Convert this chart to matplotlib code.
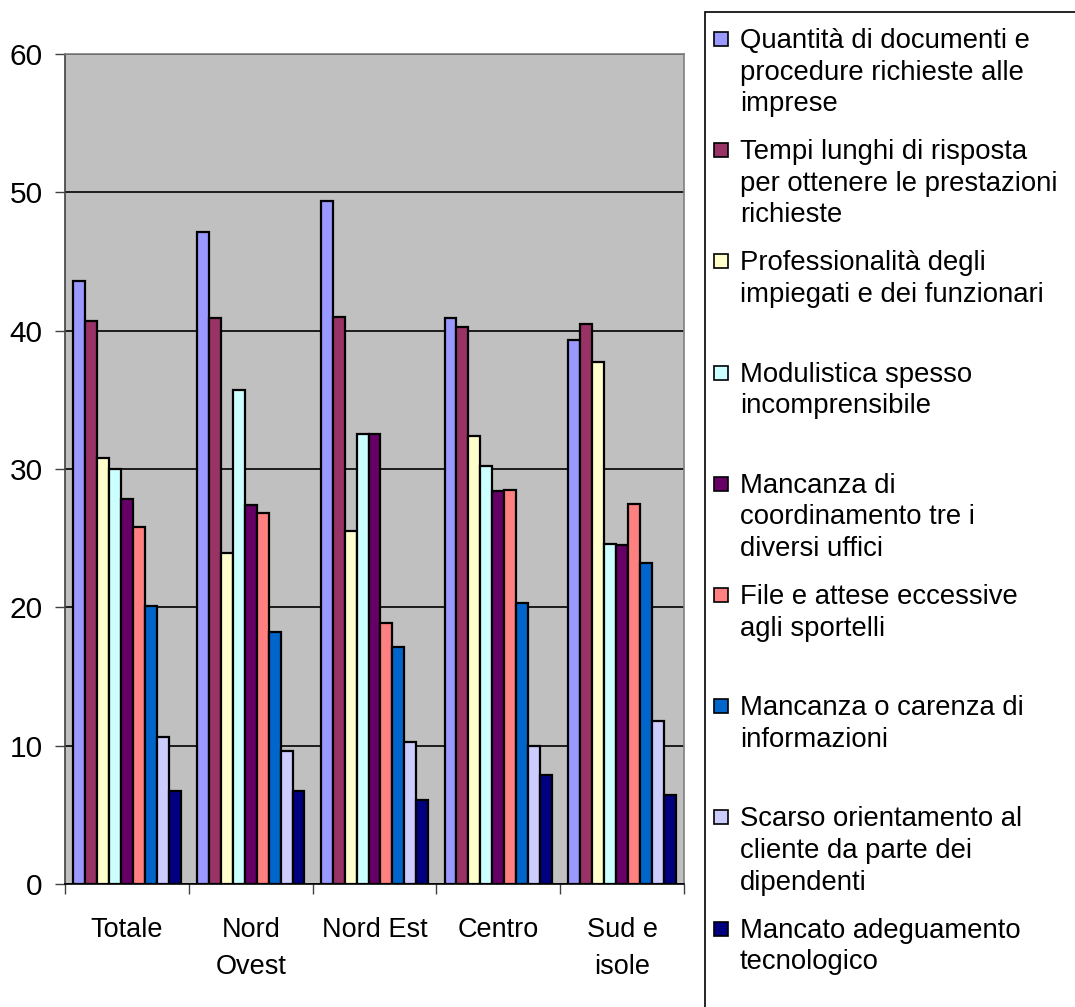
import numpy as np
import matplotlib
matplotlib.use("Agg")
import matplotlib.pyplot as plt
from matplotlib.patches import Rectangle

plt.rcParams['font.family'] = ['Liberation Sans', 'DejaVu Sans']

# dati
regioni = ["Totale", "Nord\nOvest", "Nord Est", "Centro", "Sud e\nisole"]
serie = [
    "Quantità di documenti e\nprocedure richieste alle\nimprese",
    "Tempi lunghi di risposta\nper ottenere le prestazioni\nrichieste",
    "Professionalità degli\nimpiegati e dei funzionari",
    "Modulistica spesso\nincomprensibile",
    "Mancanza di\ncoordinamento tre i\ndiversi uffici",
    "File e attese eccessive\nagli sportelli",
    "Mancanza o carenza di\ninformazioni",
    "Scarso orientamento al\ncliente da parte dei\ndipendenti",
    "Mancato adeguamento\ntecnologico",
]
colori = ["#9999FF", "#993366", "#FFFFCC", "#CCFFFF", "#660066",
          "#FF8080", "#0066CC", "#CCCCFF", "#000080"]

quantita = [43.6, 47.1, 49.4, 40.9, 39.3]
tempi = [40.7, 40.9, 41.0, 40.3, 40.5]
professionalita = [30.8, 23.9, 25.5, 32.4, 37.7]
modulistica = [30.0, 35.7, 32.5, 30.2, 24.6]
coordinamento = [27.8, 27.4, 32.5, 28.4, 24.5]
file_attese = [25.8, 26.8, 18.9, 28.5, 27.5]
informazioni = [20.1, 18.2, 17.1, 20.3, 23.2]
orientamento = [10.6, 9.6, 10.3, 10.0, 11.8]
tecnologico = [6.7, 6.7, 6.1, 7.9, 6.4]

valori = [quantita, tempi, professionalita, modulistica, coordinamento,
          file_attese, informazioni, orientamento, tecnologico]

W, H = 1075, 1007
fig = plt.figure(figsize=(W / 100, H / 100), dpi=100)
ax = fig.add_axes([65 / W, 1 - 884 / H, (684 - 65) / W, (884 - 54) / H])
ax.set_facecolor("#C0C0C0")

x = np.arange(len(regioni))
w = 0.0965
for i, (vals, col) in enumerate(zip(valori, colori)):
    ax.bar(x + (i - 4) * w, vals, width=w, color=col, edgecolor="black",
           linewidth=1.6, zorder=3)

ax.set_xlim(-0.5, 4.5)
ax.set_ylim(0, 60)
ax.set_yticks(range(0, 61, 10))
ax.yaxis.grid(True, color="black", linewidth=1.2, zorder=1)
ax.tick_params(axis="y", labelsize=21.5, length=7.2, width=1, pad=9, color="#404040")

ax.set_xticks(x)
ax.set_xticklabels(regioni, fontsize=19.5, linespacing=1.55)
ax.tick_params(axis="x", which="major", length=0, pad=24)
ax.set_xticks(np.arange(-0.5, 4.6, 1), minor=True)
ax.tick_params(axis="x", which="minor", length=7.2, width=1, color="#404040")

ax.spines["left"].set_color("#404040")
ax.spines["bottom"].set_color("black")
ax.spines["top"].set_color("#808080")
ax.spines["right"].set_color("#808080")
for s in ax.spines.values():
    s.set_linewidth(1.2)

# legenda disegnata a mano
fig.patches.append(Rectangle((705 / W, -0.01), 0.5, 1 - 12 / H + 0.01,
                             transform=fig.transFigure, facecolor="white",
                             edgecolor="black", linewidth=1.2))
for i, (lab, col) in enumerate(zip(serie, colori)):
    base = 48 + i * 111.2
    fig.patches.append(Rectangle((714 / W, 1 - (base - 2) / H), 14 / W, 14 / H,
                                 transform=fig.transFigure, facecolor=col,
                                 edgecolor="black", linewidth=1.2))
    for k, riga in enumerate(lab.split("\n")):
        fig.text(740 / W, 1 - (base + k * 31.6) / H, riga, fontsize=19.8,
                 va="baseline", ha="left")

fig.savefig("out.png", dpi=100)
